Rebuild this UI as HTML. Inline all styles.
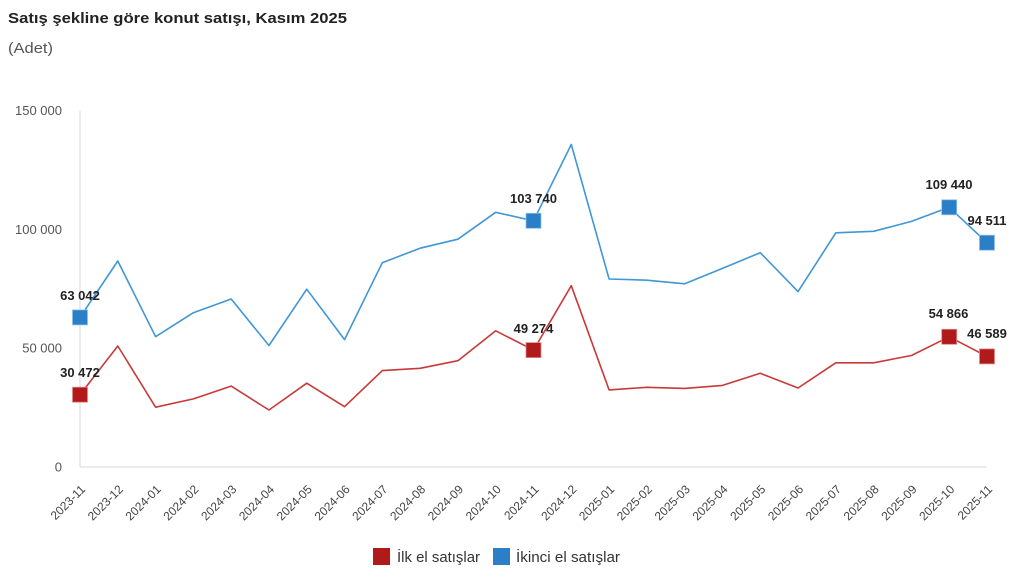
<!DOCTYPE html>
<html><head><meta charset="utf-8"><style>
html,body{margin:0;padding:0;background:#fff;}
svg{display:block;font-family:"Liberation Sans","DejaVu Sans",sans-serif;}
</style></head><body>
<svg width="1024" height="580" viewBox="0 0 1024 580" xmlns="http://www.w3.org/2000/svg">
<rect width="1024" height="580" fill="#fff"/>
<text x="8" y="23" font-size="15" font-weight="bold" fill="#222" textLength="339" lengthAdjust="spacingAndGlyphs">Satış şekline göre konut satışı, Kasım 2025</text>
<text x="8" y="53" font-size="15" fill="#555" textLength="45" lengthAdjust="spacingAndGlyphs">(Adet)</text>
<g font-size="13" fill="#555" text-anchor="end">
<text x="62" y="115">150 000</text>
<text x="62" y="234">100 000</text>
<text x="62" y="352.5">50 000</text>
<text x="62" y="471.5">0</text>
</g>
<line x1="80" y1="111" x2="80" y2="467" stroke="#e6e6e6" stroke-width="1.5"/>
<line x1="80" y1="467" x2="987" y2="467" stroke="#e6e6e6" stroke-width="1.5"/>
<g font-size="12" fill="#444" text-anchor="end">
<text transform="translate(86,490) rotate(-45)">2023-11</text>
<text transform="translate(123.79,490) rotate(-45)">2023-12</text>
<text transform="translate(161.58,490) rotate(-45)">2024-01</text>
<text transform="translate(199.38,490) rotate(-45)">2024-02</text>
<text transform="translate(237.17,490) rotate(-45)">2024-03</text>
<text transform="translate(274.96,490) rotate(-45)">2024-04</text>
<text transform="translate(312.75,490) rotate(-45)">2024-05</text>
<text transform="translate(350.54,490) rotate(-45)">2024-06</text>
<text transform="translate(388.33,490) rotate(-45)">2024-07</text>
<text transform="translate(426.13,490) rotate(-45)">2024-08</text>
<text transform="translate(463.92,490) rotate(-45)">2024-09</text>
<text transform="translate(501.71,490) rotate(-45)">2024-10</text>
<text transform="translate(539.5,490) rotate(-45)">2024-11</text>
<text transform="translate(577.29,490) rotate(-45)">2024-12</text>
<text transform="translate(615.08,490) rotate(-45)">2025-01</text>
<text transform="translate(652.88,490) rotate(-45)">2025-02</text>
<text transform="translate(690.67,490) rotate(-45)">2025-03</text>
<text transform="translate(728.46,490) rotate(-45)">2025-04</text>
<text transform="translate(766.25,490) rotate(-45)">2025-05</text>
<text transform="translate(804.04,490) rotate(-45)">2025-06</text>
<text transform="translate(841.83,490) rotate(-45)">2025-07</text>
<text transform="translate(879.63,490) rotate(-45)">2025-08</text>
<text transform="translate(917.42,490) rotate(-45)">2025-09</text>
<text transform="translate(955.21,490) rotate(-45)">2025-10</text>
<text transform="translate(993,490) rotate(-45)">2025-11</text>
</g>
<polyline fill="none" stroke="#3f97d6" stroke-width="1.6" stroke-linejoin="round" points="80,317.4 117.79,261 155.58,336.7 193.38,312.7 231.17,299 268.96,345.5 306.75,289.2 344.54,339.6 382.33,262.7 420.13,248.2 457.92,239.2 495.71,212.3 533.5,220.8 571.29,144.5 609.08,279 646.88,280.2 684.67,283.8 722.46,268.4 760.25,252.7 798.04,291.6 835.83,232.8 873.63,231.3 911.42,221.4 949.21,207.3 987,242.7"/>
<polyline fill="none" stroke="#c83a3a" stroke-width="1.6" stroke-linejoin="round" points="80,394.7 117.79,346 155.58,407.2 193.38,398.9 231.17,386.1 268.96,410 306.75,383.2 344.54,406.7 382.33,370.6 420.13,368.3 457.92,360.7 495.71,330.8 533.5,350.1 571.29,285.7 609.08,389.9 646.88,387.3 684.67,388.4 722.46,385.4 760.25,373.3 798.04,388 835.83,362.8 873.63,362.8 911.42,355.5 949.21,336.8 987,356.4"/>
<g fill="#2a7fc6" stroke="#8cc0e8" stroke-width="0.8">
<rect x="72.5" y="309.9" width="15" height="15"/>
<rect x="526" y="213.3" width="15" height="15"/>
<rect x="941.7" y="199.8" width="15" height="15"/>
<rect x="979.5" y="235.2" width="15" height="15"/>
</g>
<g fill="#b01a1a" stroke="#e08888" stroke-width="0.8">
<rect x="72.5" y="387.2" width="15" height="15"/>
<rect x="526" y="342.6" width="15" height="15"/>
<rect x="941.7" y="329.3" width="15" height="15"/>
<rect x="979.5" y="348.9" width="15" height="15"/>
</g>
<g font-size="13" font-weight="bold" fill="#222" text-anchor="middle">
<text x="80" y="300">63 042</text>
<text x="80" y="377">30 472</text>
<text x="533.5" y="203">103 740</text>
<text x="533.5" y="333">49 274</text>
<text x="949" y="189">109 440</text>
<text x="948.5" y="318">54 866</text>
<text x="987" y="225">94 511</text>
<text x="987" y="338">46 589</text>
</g>
<rect x="373" y="548" width="17" height="17" fill="#b01a1a"/>
<text x="397" y="562" font-size="15" fill="#333" textLength="83" lengthAdjust="spacingAndGlyphs">İlk el satışlar</text>
<rect x="493" y="548" width="17" height="17" fill="#2a7fc6"/>
<text x="516" y="562" font-size="15" fill="#333" textLength="104" lengthAdjust="spacingAndGlyphs">İkinci el satışlar</text>
</svg>
</body></html>
